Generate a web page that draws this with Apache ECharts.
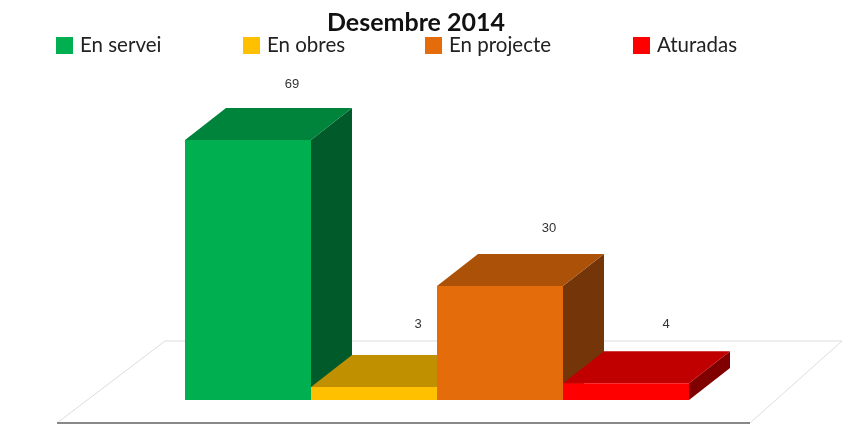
<!DOCTYPE html>
<html><head><meta charset="utf-8">
<style>html,body{margin:0;padding:0;background:#fff}#c{width:842px;height:425px}</style>
<script src="https://cdn.jsdelivr.net/npm/echarts@6/dist/echarts.min.js"></script>
</head><body><div id="c"></div>
<script>
const titleText = 'Desembre 2014';
const categories = ['En servei', 'En obres', 'En projecte', 'Aturadas'];
const values = [69, 3, 30, 4];
const frontColors = ['#00B050', '#FFC000', '#E46C0A', '#FF0000'];
const topColors = ['#00843C', '#C09000', '#AB5108', '#C00000'];
const sideColors = ['#005A2A', '#806000', '#743608', '#800000'];
const legendLefts = [56, 243, 425, 633];
const labelShift = [44, 44, 49, 40];
const labelLift = [24, 30, 25, 27];
const DEPTH_X = 41, DEPTH_Y = -32;

const chart = echarts.init(document.getElementById('c'), null, {renderer: 'canvas'});
function renderBar(i) {
  return function (params, api) {
    const idx = api.value(0), v = api.value(1);
    const w = api.size([1, 0])[0];
    const c = api.coord([idx, v]);
    const base = api.coord([idx, -0.5])[1];
    const x0 = c[0] - w / 2, x1 = c[0] + w / 2, y = c[1];
    const poly = (pts, fill) => ({type: 'polygon', shape: {points: pts}, style: {fill: fill}});
    return {type: 'group', children: [
      poly([[x1, y], [x1 + DEPTH_X, y + DEPTH_Y], [x1 + DEPTH_X, base + DEPTH_Y], [x1, base]], sideColors[i]),
      poly([[x0, y], [x0 + DEPTH_X, y + DEPTH_Y], [x1 + DEPTH_X, y + DEPTH_Y], [x1, y]], topColors[i]),
      poly([[x0, y], [x1, y], [x1, base], [x0, base]], frontColors[i]),
      {type: 'text', x: c[0] + labelShift[i], y: y + DEPTH_Y - labelLift[i], style: {
        text: String(v), fill: '#333', font: '13px "Liberation Sans"', textAlign: 'center', textVerticalAlign: 'middle'}}
    ]};
  };
}
chart.setOption({
  animation: false,
  backgroundColor: '#fff',
  title: {text: titleText, left: 411, top: 5, textAlign: 'center',
    textStyle: {fontFamily: 'Lato', fontWeight: 'bold', fontSize: 25, color: '#111'}},
  legend: categories.map((n, i) => ({
    data: [{name: n, icon: 'rect'}], left: legendLefts[i] - 5, top: 30, itemWidth: 17, itemHeight: 17,
    selectedMode: false, textStyle: {fontFamily: 'Lato', fontSize: 20.5, color: '#222', padding: [0, 0, 0, 2]}
  })),
  grid: {left: 185, top: 140, width: 504, height: 260},
  xAxis: {type: 'category', data: categories, show: false},
  yAxis: {type: 'value', min: -0.5, max: 69, show: false},
  graphic: [
    {type: 'polyline', silent: true, z: -1, shape: {points: [[57, 423], [165, 341], [842, 341]]}, style: {stroke: '#DDD', lineWidth: 1, fill: null}},
    {type: 'line', silent: true, z: -1, shape: {x1: 750, y1: 423, x2: 842, y2: 341}, style: {stroke: '#DDD', lineWidth: 1}},
    {type: 'line', silent: true, z: -1, shape: {x1: 57, y1: 423, x2: 750, y2: 423}, style: {stroke: '#888', lineWidth: 2}}
  ],
  series: categories.map((n, i) => ({
    type: 'custom', name: n, clip: false, z: 2 + i,
    itemStyle: {color: frontColors[i]},
    encode: {x: 0, y: 1},
    renderItem: renderBar(i),
    data: [[i, values[i]]]
  }))
});
</script></body></html>
